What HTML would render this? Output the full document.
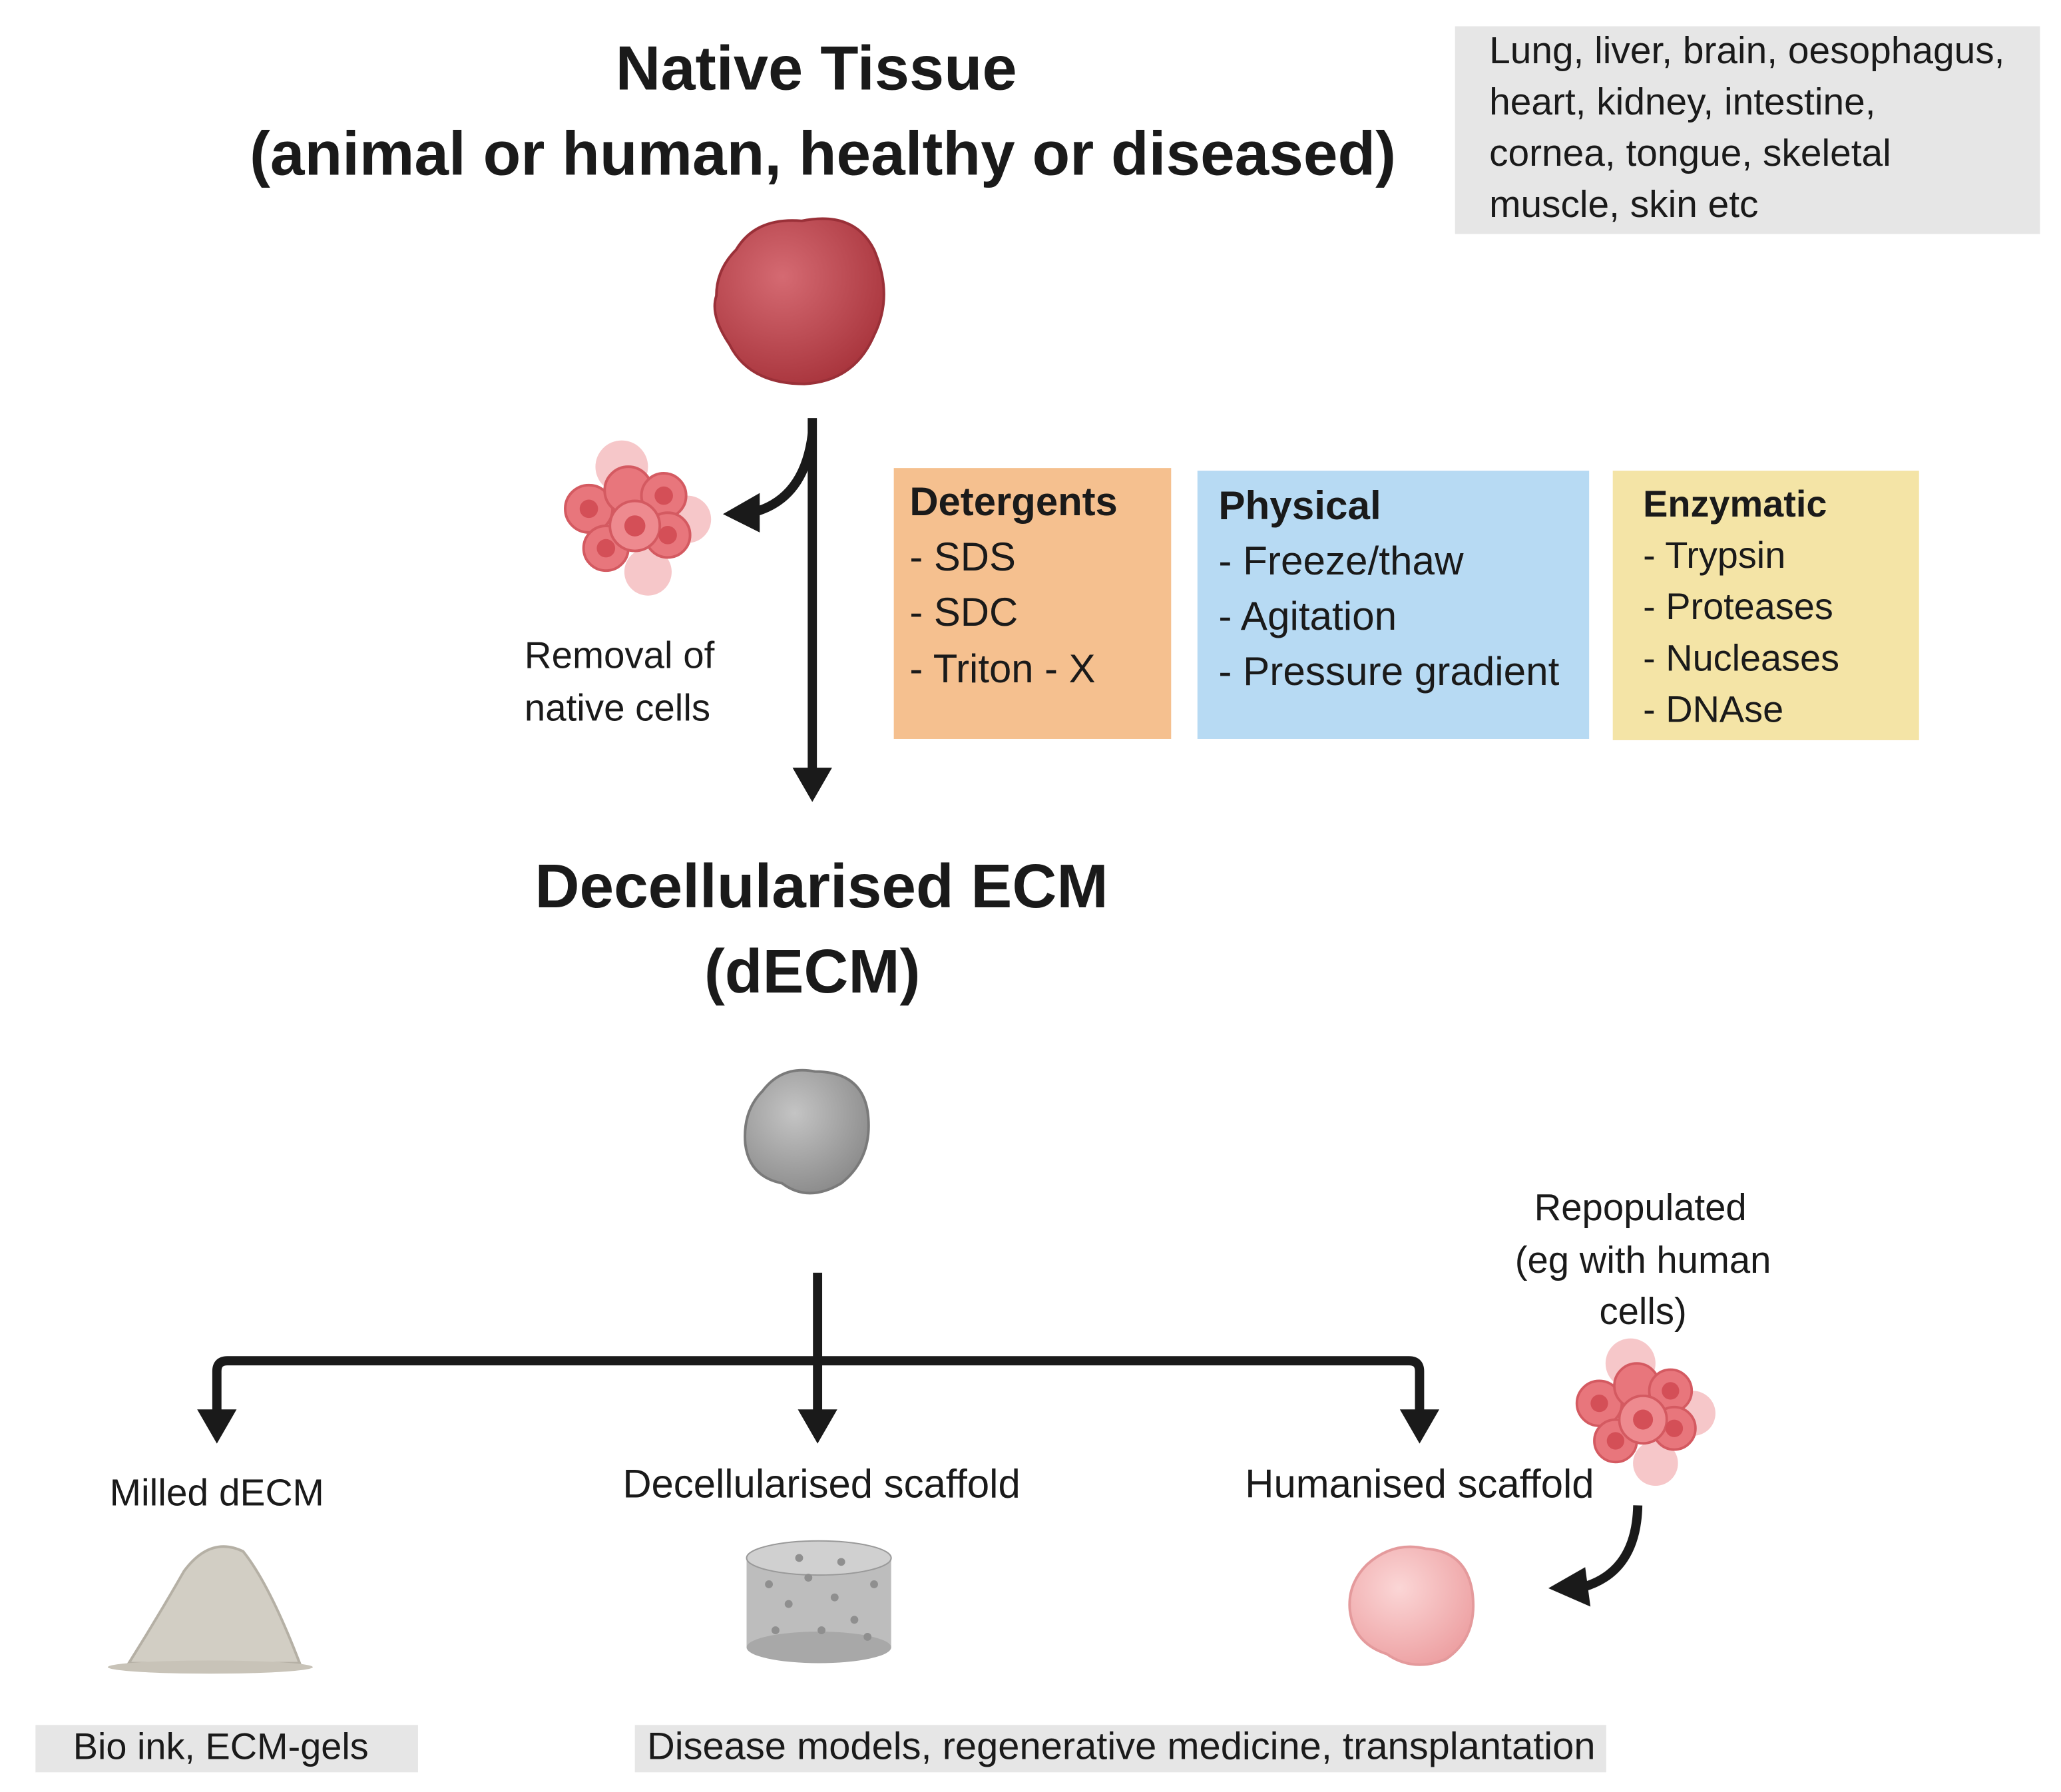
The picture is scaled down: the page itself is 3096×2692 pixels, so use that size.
<!DOCTYPE html>
<html><head><meta charset="utf-8"><style>
html,body{margin:0;padding:0;background:#fff;}
svg{display:block;}
text{font-family:"Liberation Sans",sans-serif;fill:#1a1a1a;}
</style></head><body>
<svg width="3096" height="2692" viewBox="0 0 1568 1363" preserveAspectRatio="none" xmlns="http://www.w3.org/2000/svg">
<defs>
<radialGradient id="red" cx="0.4" cy="0.35" r="0.7"><stop offset="0" stop-color="#d56a72"/><stop offset="1" stop-color="#a8343c"/></radialGradient>
<radialGradient id="gry" cx="0.4" cy="0.35" r="0.7"><stop offset="0" stop-color="#c4c4c4"/><stop offset="1" stop-color="#8a8a8a"/></radialGradient>
<radialGradient id="pnk" cx="0.4" cy="0.35" r="0.7"><stop offset="0" stop-color="#fbd6d6"/><stop offset="1" stop-color="#eda0a2"/></radialGradient>
<g id="cells">
<circle cx="-10" cy="-40" r="20" fill="#f6c7c9"/><circle cx="40" cy="0" r="18" fill="#f6c7c9"/><circle cx="10" cy="40" r="18" fill="#f6c7c9"/>
<circle cx="-35" cy="-8" r="18" fill="#e8767c" stroke="#d45a61" stroke-width="2"/>
<circle cx="-5" cy="-22" r="18" fill="#e8767c" stroke="#d45a61" stroke-width="2"/>
<circle cx="22" cy="-18" r="17" fill="#e8767c" stroke="#d45a61" stroke-width="2"/>
<circle cx="-22" cy="22" r="17" fill="#e8767c" stroke="#d45a61" stroke-width="2"/>
<circle cx="25" cy="12" r="17" fill="#e8767c" stroke="#d45a61" stroke-width="2"/>
<circle cx="0" cy="5" r="19" fill="#ee8a8f" stroke="#d45a61" stroke-width="2"/>
<circle cx="0" cy="5" r="8" fill="#d44f57"/><circle cx="-35" cy="-8" r="7" fill="#d44f57"/><circle cx="-22" cy="22" r="7" fill="#d44f57"/><circle cx="25" cy="12" r="7" fill="#d44f57"/><circle cx="22" cy="-18" r="7" fill="#d44f57"/>
</g>
</defs>

<text x="621" y="68" font-size="47.5" font-weight="bold" text-anchor="middle">Native Tissue</text>
<text x="626" y="133" font-size="47" font-weight="bold" text-anchor="middle">(animal or human, healthy or diseased)</text>

<rect x="1107" y="20" width="445" height="158" fill="#e6e6e6"/>
<g font-size="28.8"><text x="1133" y="48">Lung, liver, brain, oesophagus,</text><text x="1133" y="87">heart, kidney,  intestine,</text><text x="1133" y="126">cornea, tongue, skeletal</text><text x="1133" y="165">muscle, skin etc</text></g>

<path d="M560,190 Q575,165 610,168 Q650,160 665,190 Q680,225 665,255 Q650,290 612,292 Q570,292 555,262 Q540,240 545,225 Q545,205 560,190Z" fill="url(#red)" stroke="#9a3038" stroke-width="2"/>

<line x1="618" y1="318" x2="618" y2="588" stroke="#1a1a1a" stroke-width="7"/>
<polygon points="603,584 633,584 618,610" fill="#1a1a1a"/>
<path d="M618,330 Q612,380 572,390" fill="none" stroke="#1a1a1a" stroke-width="7"/>
<polygon points="550,391 578,375 578,405" fill="#1a1a1a"/>

<use href="#cells" transform="translate(483,395)"/>
<g font-size="28.6"><text x="399" y="508">Removal of</text><text x="399" y="548">native cells</text></g>

<rect x="680" y="356" width="211" height="206" fill="#f5c08f"/>
<text x="692" y="392" font-size="30.3" font-weight="bold">Detergents</text>
<g font-size="30.3"><text x="692" y="434">- SDS</text><text x="692" y="476">- SDC</text><text x="692" y="519">- Triton - X</text></g>

<rect x="911" y="358" width="298" height="204" fill="#b7daf3"/>
<text x="927" y="395" font-size="30.5" font-weight="bold">Physical</text>
<g font-size="30.5"><text x="927" y="437">- Freeze/thaw</text><text x="927" y="479">- Agitation</text><text x="927" y="521">- Pressure gradient</text></g>

<rect x="1227" y="358" width="233" height="205" fill="#f4e4a6"/>
<text x="1250" y="393" font-size="28.3" font-weight="bold">Enzymatic</text>
<g font-size="28.3"><text x="1250" y="432">- Trypsin</text><text x="1250" y="471">- Proteases</text><text x="1250" y="510">- Nucleases</text><text x="1250" y="549">- DNAse</text></g>

<text x="625" y="690" font-size="47" font-weight="bold" text-anchor="middle">Decellularised ECM</text>
<text x="618" y="755" font-size="47" font-weight="bold" text-anchor="middle">(dECM)</text>

<path d="M580,830 Q595,810 620,815 Q655,815 660,845 Q665,880 640,900 Q615,915 595,900 Q570,895 567,870 Q565,845 580,830Z" fill="url(#gry)" stroke="#7a7a7a" stroke-width="2"/>

<line x1="622" y1="968" x2="622" y2="1078" stroke="#1a1a1a" stroke-width="7"/>
<path d="M165,1078 L165,1043 Q165,1035 173,1035 L1072,1035 Q1080,1035 1080,1043 L1080,1078" fill="none" stroke="#1a1a1a" stroke-width="7"/>
<polygon points="150,1072 180,1072 165,1098" fill="#1a1a1a"/>
<polygon points="607,1072 637,1072 622,1098" fill="#1a1a1a"/>
<polygon points="1065,1072 1095,1072 1080,1098" fill="#1a1a1a"/>

<g text-anchor="middle"><text x="165" y="1145" font-size="28.8">Milled dECM</text><text x="625" y="1139" font-size="30.3">Decellularised scaffold</text><text x="1080" y="1139" font-size="30.3">Humanised scaffold</text>
<g font-size="28.5"><text x="1248" y="928">Repopulated</text><text x="1250" y="968">(eg with human</text><text x="1250" y="1007">cells)</text></g></g>

<use href="#cells" transform="translate(1250,1075) scale(0.95)"/>
<path d="M1246,1145 Q1245,1195 1205,1207" fill="none" stroke="#1a1a1a" stroke-width="7"/>
<polygon points="1178,1208 1206,1192 1210,1222" fill="#1a1a1a"/>

<path d="M98,1265 Q120,1230 140,1195 Q160,1168 185,1180 Q205,1205 228,1265 Z" fill="#d2cec4" stroke="#b5b0a5" stroke-width="2"/>
<ellipse cx="160" cy="1268" rx="78" ry="5" fill="#c8c3b8"/>

<rect x="568" y="1185" width="110" height="68" fill="#bdbdbd"/>
<ellipse cx="623" cy="1253" rx="55" ry="12" fill="#a8a8a8"/>
<ellipse cx="623" cy="1185" rx="55" ry="13" fill="#d0d0d0" stroke="#999" stroke-width="1"/>
<g fill="#8f8f8f"><circle cx="585" cy="1205" r="3"/><circle cx="600" cy="1220" r="3"/><circle cx="615" cy="1200" r="3"/><circle cx="635" cy="1215" r="3"/><circle cx="650" cy="1232" r="3"/><circle cx="665" cy="1205" r="3"/><circle cx="590" cy="1240" r="3"/><circle cx="625" cy="1240" r="3"/><circle cx="660" cy="1245" r="3"/><circle cx="608" cy="1185" r="3"/><circle cx="640" cy="1188" r="3"/></g>

<path d="M1040,1190 Q1060,1172 1085,1178 Q1115,1180 1120,1210 Q1125,1245 1100,1262 Q1075,1272 1055,1258 Q1030,1250 1027,1225 Q1025,1205 1040,1190Z" fill="url(#pnk)" stroke="#e49a9c" stroke-width="2"/>

<rect x="27" y="1312" width="291" height="36" fill="#e6e6e6"/>
<text x="168" y="1338" font-size="28.3" text-anchor="middle">Bio ink, ECM-gels</text>
<rect x="483" y="1312" width="739" height="36" fill="#e6e6e6"/>
<text x="853" y="1338" font-size="29.3" text-anchor="middle">Disease models, regenerative medicine, transplantation</text>
</svg>
</body></html>
